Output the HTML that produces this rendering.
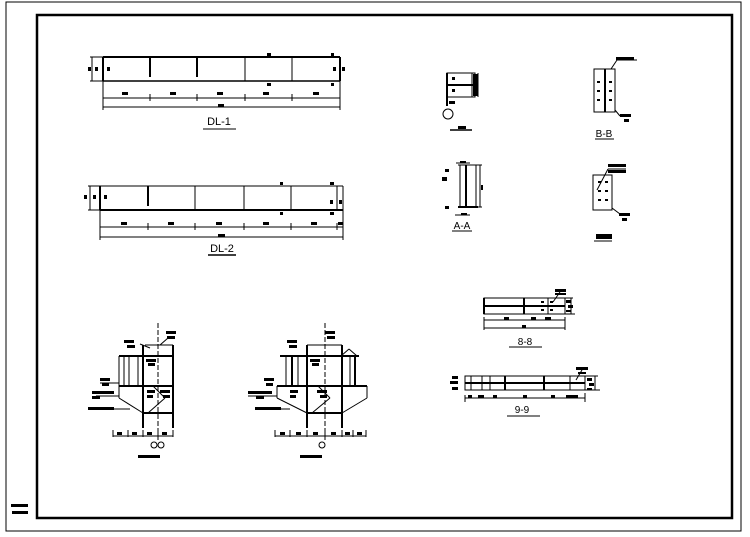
<!DOCTYPE html>
<html><head><meta charset="utf-8"><style>
html,body{margin:0;padding:0;background:#fff;width:750px;height:537px;overflow:hidden}
svg{display:block}
text{font-family:"Liberation Sans","Noto Sans CJK SC",sans-serif;fill:#000}
</style></head><body>
<svg width="750" height="537" viewBox="0 0 750 537" xmlns="http://www.w3.org/2000/svg" stroke="#000" fill="none">
<!-- frames -->
<rect x="6" y="2" width="735" height="529" stroke-width="1"/>
<rect x="37" y="15" width="695" height="503" stroke-width="2.5"/>
<rect x="11" y="504" width="17" height="3" fill="#000" stroke="none"/>
<rect x="12" y="511" width="16" height="3" fill="#000" stroke="none"/>

<!-- DL-1 -->
<g stroke-width="1">
<line x1="103" y1="57" x2="340" y2="57" stroke-width="2"/>
<line x1="103" y1="81" x2="340" y2="81" stroke-width="1.5"/>
<line x1="103" y1="57" x2="103" y2="81" stroke-width="2"/>
<line x1="340" y1="57" x2="340" y2="81" stroke-width="2"/>
<line x1="150" y1="57" x2="150" y2="77" stroke-width="2"/>
<line x1="197" y1="57" x2="197" y2="77" stroke-width="2"/>
<line x1="245" y1="57" x2="245" y2="81"/>
<line x1="292" y1="57" x2="292" y2="81"/>
<line x1="92" y1="57" x2="92" y2="81"/><line x1="90" y1="57" x2="103" y2="57"/><line x1="90" y1="81" x2="103" y2="81"/>
<line x1="103" y1="98" x2="340" y2="98"/>
<line x1="103" y1="107" x2="340" y2="107"/>
<line x1="103" y1="81" x2="103" y2="110"/><line x1="340" y1="81" x2="340" y2="110"/>
<line x1="150" y1="94" x2="150" y2="101"/><line x1="197" y1="94" x2="197" y2="101"/><line x1="245" y1="94" x2="245" y2="101"/><line x1="292" y1="94" x2="292" y2="101"/>
<line x1="203" y1="129" x2="236" y2="129"/>
</g>
<g stroke="none" fill="#000" font-size="4">
<rect x="88" y="67" width="3" height="4"/><rect x="95" y="67" width="3" height="4"/><rect x="107" y="67" width="3" height="4"/>
<rect x="333" y="67" width="3" height="4"/><rect x="342" y="67" width="3" height="4"/>
<rect x="331" y="53" width="3" height="3"/><rect x="331" y="83" width="3" height="3"/>
<rect x="267" y="53" width="4" height="3"/><rect x="267" y="83" width="4" height="3"/>
<rect x="122" y="92" width="6" height="3"/><rect x="170" y="92" width="6" height="3"/><rect x="217" y="92" width="6" height="3"/><rect x="263" y="92" width="6" height="3"/><rect x="313" y="92" width="6" height="3"/>
<rect x="218" y="104" width="6" height="3"/>
</g>
<text x="219" y="125" font-size="11" stroke="none" text-anchor="middle">DL-1</text>

<!-- DL-2 -->
<g stroke-width="1">
<line x1="100" y1="186" x2="343" y2="186"/>
<line x1="100" y1="210" x2="343" y2="210" stroke-width="2"/>
<line x1="100" y1="186" x2="100" y2="210" stroke-width="2"/>
<line x1="343" y1="186" x2="343" y2="210"/>
<line x1="337" y1="186" x2="337" y2="210"/>
<line x1="148" y1="186" x2="148" y2="206" stroke-width="2"/>
<line x1="195" y1="186" x2="195" y2="210"/>
<line x1="244" y1="186" x2="244" y2="210"/>
<line x1="291" y1="186" x2="291" y2="210"/>
<line x1="88" y1="186" x2="100" y2="186"/><line x1="88" y1="210" x2="100" y2="210"/><line x1="90" y1="186" x2="90" y2="210"/>
<line x1="100" y1="227" x2="343" y2="227"/>
<line x1="100" y1="237" x2="343" y2="237"/>
<line x1="100" y1="210" x2="100" y2="240"/><line x1="343" y1="210" x2="343" y2="240"/>
<line x1="148" y1="223" x2="148" y2="230"/><line x1="195" y1="223" x2="195" y2="230"/><line x1="244" y1="223" x2="244" y2="230"/><line x1="291" y1="223" x2="291" y2="230"/><line x1="337" y1="223" x2="337" y2="230"/>
<line x1="208" y1="255" x2="236" y2="255" stroke-width="1.5"/>
</g>
<g stroke="none" fill="#000">
<rect x="84" y="195" width="3" height="4"/><rect x="93" y="195" width="3" height="4"/><rect x="104" y="195" width="3" height="4"/>
<rect x="330" y="200" width="3" height="4"/><rect x="339" y="200" width="3" height="4"/>
<rect x="280" y="182" width="3" height="3"/><rect x="280" y="212" width="3" height="3"/>
<rect x="330" y="182" width="4" height="3"/><rect x="330" y="212" width="4" height="3"/>
<rect x="121" y="222" width="6" height="3"/><rect x="168" y="222" width="6" height="3"/><rect x="216" y="222" width="6" height="3"/><rect x="263" y="222" width="6" height="3"/><rect x="311" y="222" width="6" height="3"/><rect x="338" y="222" width="5" height="3"/>
<rect x="218" y="234" width="7" height="3"/>
</g>
<text x="222" y="252" font-size="11" stroke="none" text-anchor="middle">DL-2</text>

<!-- bottom-left detail 1 -->
<g stroke-width="1">
<line x1="158" y1="323" x2="158" y2="440" stroke-dasharray="5,2"/>
<line x1="145" y1="345" x2="173" y2="345"/>
<line x1="119" y1="356" x2="173" y2="356" stroke-width="2"/>
<line x1="143" y1="345" x2="143" y2="428" stroke-width="2"/>
<line x1="173" y1="345" x2="173" y2="428" stroke-width="2"/>
<line x1="119" y1="356" x2="119" y2="386"/><line x1="124" y1="356" x2="124" y2="386"/><line x1="129" y1="356" x2="129" y2="386"/><line x1="138" y1="356" x2="138" y2="386"/>
<line x1="119" y1="386" x2="173" y2="386" stroke-width="2"/>
<line x1="119" y1="386" x2="119" y2="398"/>
<line x1="119" y1="398" x2="143" y2="413"/>
<line x1="143" y1="413" x2="173" y2="413" stroke-width="2"/>
<line x1="153" y1="386" x2="165" y2="398"/><line x1="165" y1="398" x2="148" y2="413"/>
<line x1="113" y1="436" x2="173" y2="436"/>
<line x1="113" y1="430" x2="113" y2="437"/><line x1="128" y1="430" x2="128" y2="437"/><line x1="143" y1="430" x2="143" y2="437"/><line x1="158" y1="430" x2="158" y2="437"/><line x1="173" y1="430" x2="173" y2="437"/>
<circle cx="154" cy="445" r="3"/><circle cx="161" cy="445" r="3"/>
<line x1="100" y1="409" x2="130" y2="409"/><line x1="96" y1="396" x2="119" y2="396"/><line x1="100" y1="383" x2="119" y2="383"/>
<line x1="150" y1="348" x2="140" y2="344"/><line x1="160" y1="345" x2="168" y2="338"/>
</g>
<g stroke="none" fill="#000">
<rect x="124" y="340" width="10" height="3"/><rect x="127" y="345" width="8" height="3"/>
<rect x="166" y="331" width="10" height="3"/><rect x="167" y="336" width="8" height="3"/>
<rect x="146" y="359" width="10" height="3"/><rect x="148" y="363" width="7" height="3"/>
<rect x="100" y="378" width="10" height="3"/><rect x="102" y="383" width="7" height="3"/>
<rect x="92" y="391" width="22" height="3"/><rect x="92" y="396" width="8" height="3"/>
<rect x="147" y="390" width="8" height="3"/><rect x="147" y="395" width="6" height="3"/>
<rect x="160" y="390" width="10" height="3"/><rect x="163" y="395" width="7" height="3"/>
<rect x="88" y="407" width="26" height="3"/>
<rect x="117" y="432" width="5" height="3"/><rect x="132" y="432" width="5" height="3"/><rect x="147" y="432" width="5" height="3"/><rect x="162" y="432" width="5" height="3"/>
<rect x="138" y="455" width="22" height="3"/>
</g>

<!-- bottom detail 2 -->
<g stroke-width="1">
<line x1="325" y1="323" x2="325" y2="440" stroke-dasharray="5,2"/>
<line x1="307" y1="345" x2="342" y2="345"/>
<line x1="280" y1="356" x2="359" y2="356" stroke-width="2"/>
<line x1="307" y1="345" x2="307" y2="428" stroke-width="2"/>
<line x1="342" y1="345" x2="342" y2="428" stroke-width="2"/>
<line x1="286" y1="356" x2="286" y2="386"/><line x1="292" y1="356" x2="292" y2="386" stroke-width="2"/><line x1="298" y1="356" x2="298" y2="386"/>
<line x1="350" y1="356" x2="350" y2="386"/><line x1="355" y1="356" x2="355" y2="386" stroke-width="2"/>
<line x1="341" y1="356" x2="349" y2="349"/><line x1="349" y1="349" x2="357" y2="356"/>
<line x1="277" y1="386" x2="367" y2="386" stroke-width="2"/>
<line x1="277" y1="386" x2="277" y2="398"/><line x1="367" y1="386" x2="367" y2="398"/>
<line x1="277" y1="398" x2="307" y2="413"/><line x1="367" y1="398" x2="342" y2="413"/>
<line x1="307" y1="413" x2="342" y2="413" stroke-width="2"/>
<line x1="318" y1="386" x2="330" y2="398"/><line x1="330" y1="398" x2="312" y2="413"/>
<line x1="275" y1="436" x2="366" y2="436"/>
<line x1="275" y1="430" x2="275" y2="437"/><line x1="290" y1="430" x2="290" y2="437"/><line x1="307" y1="430" x2="307" y2="437"/><line x1="325" y1="430" x2="325" y2="437"/><line x1="342" y1="430" x2="342" y2="437"/><line x1="353" y1="430" x2="353" y2="437"/><line x1="366" y1="430" x2="366" y2="437"/>
<circle cx="322" cy="445" r="3"/>
<line x1="262" y1="409" x2="290" y2="409"/><line x1="248" y1="396" x2="277" y2="396"/>
</g>
<g stroke="none" fill="#000">
<rect x="287" y="340" width="10" height="3"/><rect x="289" y="345" width="8" height="3"/>
<rect x="325" y="331" width="10" height="3"/><rect x="327" y="336" width="8" height="3"/>
<rect x="310" y="359" width="10" height="3"/><rect x="312" y="363" width="7" height="3"/>
<rect x="264" y="378" width="10" height="3"/><rect x="266" y="383" width="7" height="3"/>
<rect x="248" y="391" width="24" height="3"/><rect x="256" y="396" width="8" height="3"/>
<rect x="290" y="390" width="8" height="3"/><rect x="290" y="395" width="6" height="3"/>
<rect x="317" y="390" width="10" height="3"/><rect x="320" y="395" width="7" height="3"/>
<rect x="255" y="407" width="26" height="3"/>
<rect x="280" y="432" width="5" height="3"/><rect x="296" y="432" width="5" height="3"/><rect x="313" y="432" width="5" height="3"/><rect x="331" y="432" width="5" height="3"/><rect x="345" y="432" width="5" height="3"/><rect x="357" y="432" width="5" height="3"/>
<rect x="300" y="455" width="22" height="3"/>
</g>

<!-- right top: ?-B -->
<g stroke-width="1">
<rect x="447" y="73" width="28" height="24"/>
<line x1="447" y1="85" x2="475" y2="85" stroke-width="2"/>
<line x1="447" y1="73" x2="447" y2="106" stroke-width="2"/>
<line x1="472" y1="73" x2="472" y2="97"/>
<line x1="478" y1="73" x2="478" y2="97"/>
<circle cx="448" cy="114" r="5"/>
<line x1="450" y1="130" x2="472" y2="130" stroke-width="1.5"/>
</g>
<g stroke="none" fill="#000">
<rect x="449" y="101" width="6" height="3"/>
<rect x="452" y="77" width="3" height="3"/><rect x="452" y="89" width="3" height="3"/>
<rect x="473" y="74" width="5" height="22"/>
<rect x="458" y="126" width="8" height="3"/>
</g>
<!-- B-B -->
<g stroke-width="1">
<rect x="594" y="69" width="21" height="43"/>
<line x1="605" y1="69" x2="605" y2="112" stroke-width="2"/>
<line x1="611" y1="69" x2="617" y2="60"/><line x1="617" y1="60" x2="637" y2="60"/>
<line x1="615" y1="110" x2="620" y2="116"/>
<line x1="595" y1="139" x2="614" y2="139"/>
</g>
<g stroke="none" fill="#000">
<rect x="616" y="57" width="18" height="3"/>
<rect x="620" y="114" width="11" height="3"/><rect x="624" y="119" width="5" height="3"/>
<text x="604" y="137" font-size="10" text-anchor="middle">B-B</text>
<rect x="597" y="81" width="3" height="2"/><rect x="597" y="90" width="3" height="2"/><rect x="597" y="99" width="3" height="2"/>
<rect x="609" y="81" width="3" height="2"/><rect x="609" y="90" width="3" height="2"/><rect x="609" y="99" width="3" height="2"/>
</g>
<!-- A-A -->
<g stroke-width="1">
<line x1="458" y1="165" x2="478" y2="165"/><line x1="458" y1="207" x2="478" y2="207" stroke-width="2"/>
<line x1="460" y1="165" x2="460" y2="207"/><line x1="476" y1="165" x2="476" y2="207"/>
<line x1="466" y1="165" x2="466" y2="207" stroke-width="2"/>
<line x1="478" y1="165" x2="482" y2="165"/><line x1="478" y1="207" x2="482" y2="207"/><line x1="480" y1="165" x2="480" y2="207"/>
<line x1="456" y1="163" x2="470" y2="163"/><line x1="455" y1="215" x2="470" y2="215"/>
<line x1="452" y1="231" x2="472" y2="231"/>
</g>
<g stroke="none" fill="#000">
<rect x="445" y="169" width="4" height="3"/><rect x="442" y="177" width="5" height="4"/><rect x="445" y="206" width="4" height="3"/>
<rect x="460" y="161" width="6" height="2"/><rect x="461" y="213" width="6" height="2"/><rect x="481" y="185" width="2" height="5"/>
<text x="462" y="229" font-size="10" text-anchor="middle">A-A</text>
</g>
<!-- connection plate -->
<g stroke-width="1">
<rect x="593" y="175" width="19" height="35"/>
<line x1="597" y1="190" x2="608" y2="169"/><line x1="608" y1="169" x2="626" y2="169"/>
<line x1="612" y1="208" x2="620" y2="214"/>
<line x1="594" y1="241" x2="612" y2="241"/>
</g>
<g stroke="none" fill="#000">
<rect x="608" y="164" width="18" height="3"/><rect x="608" y="170" width="18" height="3"/>
<rect x="619" y="213" width="11" height="3"/><rect x="622" y="218" width="5" height="3"/>
<rect x="596" y="234" width="16" height="5"/>
<rect x="598" y="181" width="3" height="2"/><rect x="598" y="190" width="3" height="2"/><rect x="598" y="199" width="3" height="2"/>
<rect x="605" y="181" width="3" height="2"/><rect x="605" y="190" width="3" height="2"/><rect x="605" y="199" width="3" height="2"/>
</g>
<!-- 8-8 -->
<g stroke-width="1">
<rect x="484" y="298" width="81" height="16"/>
<line x1="484" y1="306" x2="565" y2="306" stroke-width="2"/>
<line x1="484" y1="298" x2="484" y2="314" stroke-width="2"/>
<line x1="524" y1="298" x2="524" y2="314" stroke-width="2"/>
<line x1="548" y1="298" x2="548" y2="314"/>
<line x1="484" y1="317" x2="484" y2="330"/><line x1="565" y1="317" x2="565" y2="330"/>
<line x1="484" y1="320" x2="565" y2="320"/><line x1="484" y1="328" x2="565" y2="328"/>
<line x1="565" y1="298" x2="573" y2="298"/><line x1="565" y1="314" x2="575" y2="314"/><line x1="571" y1="298" x2="571" y2="314"/>
<line x1="553" y1="302" x2="560" y2="292"/>
<line x1="509" y1="347" x2="542" y2="347"/>
</g>
<g stroke="none" fill="#000">
<rect x="555" y="289" width="11" height="3"/><rect x="555" y="293" width="11" height="2"/>
<rect x="566" y="300" width="5" height="3"/><rect x="568" y="305" width="5" height="3"/><rect x="566" y="310" width="5" height="2"/>
<rect x="504" y="317" width="5" height="3"/><rect x="531" y="317" width="5" height="3"/><rect x="545" y="317" width="6" height="3"/>
<rect x="522" y="325" width="4" height="3"/>
<rect x="541" y="301" width="3" height="2"/><rect x="550" y="301" width="3" height="2"/><rect x="541" y="309" width="3" height="2"/><rect x="550" y="309" width="3" height="2"/>
<text x="525" y="345" font-size="10" text-anchor="middle">8-8</text>
</g>
<!-- 9-9 -->
<g stroke-width="1">
<rect x="465" y="376" width="120" height="14"/>
<line x1="465" y1="383" x2="585" y2="383" stroke-width="2"/>
<line x1="471" y1="376" x2="471" y2="390"/><line x1="482" y1="376" x2="482" y2="390"/><line x1="490" y1="376" x2="490" y2="390"/>
<line x1="505" y1="376" x2="505" y2="390" stroke-width="2"/>
<line x1="544" y1="376" x2="544" y2="390" stroke-width="2"/>
<line x1="570" y1="376" x2="570" y2="390"/>
<line x1="465" y1="398" x2="585" y2="398"/>
<line x1="465" y1="395" x2="465" y2="402"/><line x1="585" y1="393" x2="585" y2="402"/>
<line x1="585" y1="376" x2="598" y2="376"/><line x1="585" y1="390" x2="600" y2="390"/><line x1="595" y1="376" x2="595" y2="390"/>
<line x1="576" y1="380" x2="582" y2="370"/>
<line x1="507" y1="416" x2="540" y2="416"/>
</g>
<g stroke="none" fill="#000">
<rect x="576" y="367" width="12" height="3"/><rect x="578" y="372" width="8" height="2"/>
<rect x="452" y="376" width="6" height="3"/><rect x="450" y="381" width="8" height="3"/><rect x="452" y="387" width="6" height="3"/>
<rect x="587" y="378" width="5" height="3"/><rect x="589" y="383" width="5" height="3"/><rect x="587" y="388" width="5" height="2"/>
<rect x="468" y="395" width="4" height="3"/><rect x="478" y="395" width="6" height="3"/><rect x="493" y="395" width="4" height="3"/><rect x="523" y="395" width="4" height="3"/><rect x="551" y="395" width="4" height="3"/><rect x="566" y="395" width="12" height="3"/>
<text x="522" y="413" font-size="10" text-anchor="middle">9-9</text>
</g>
</svg>
</body></html>
